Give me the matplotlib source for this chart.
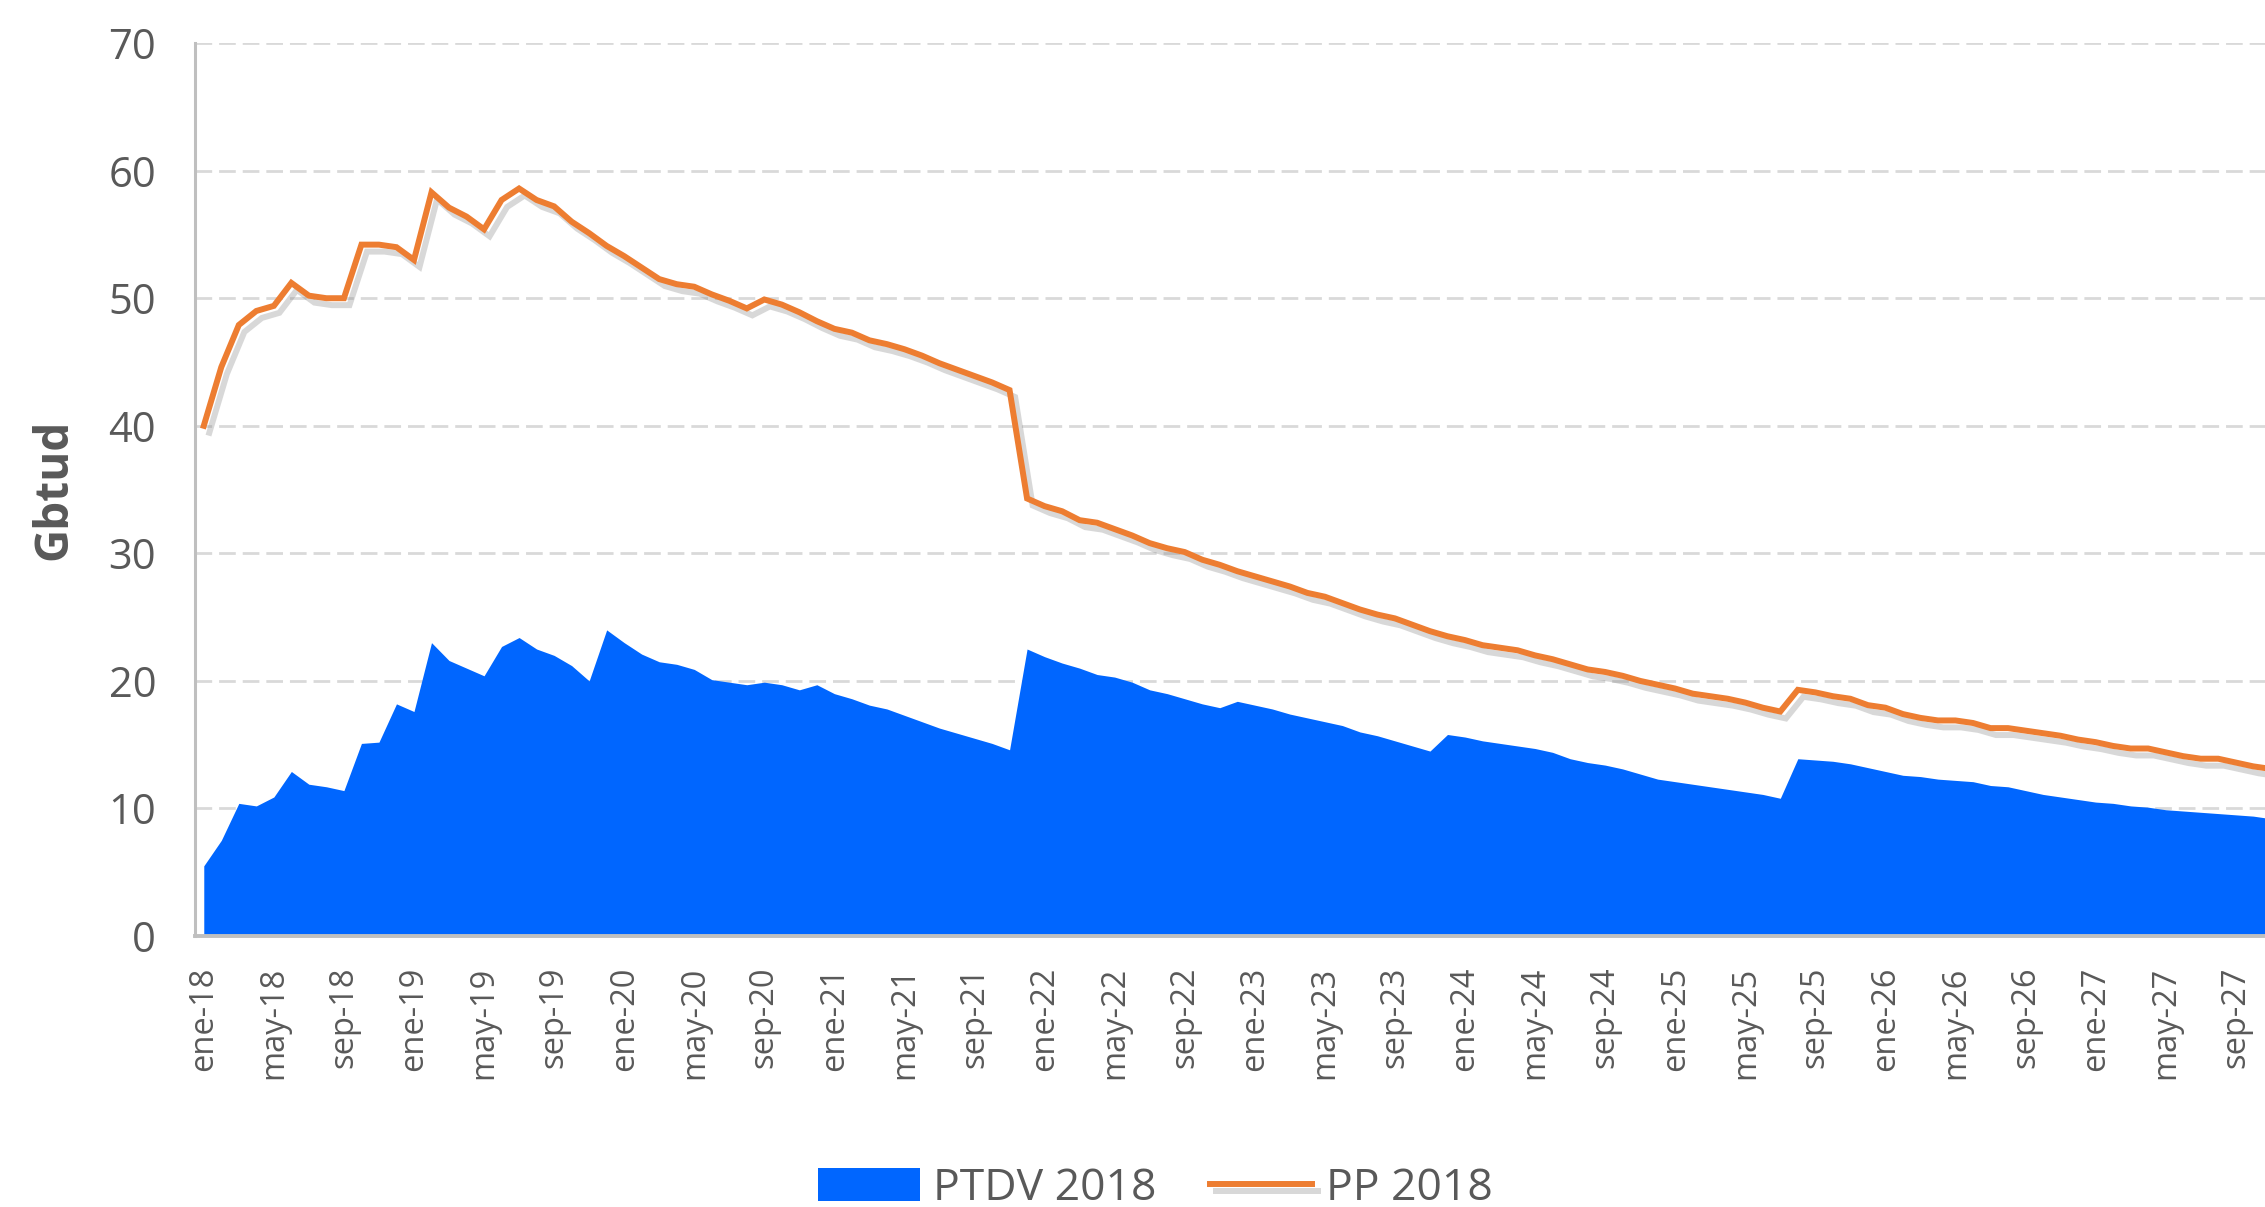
import numpy as np
import matplotlib
matplotlib.use("Agg")
import matplotlib.pyplot as plt
import matplotlib.patheffects as pe

# monthly series starting ene-2018 (chart is cut off at the right edge)
meses = ["ene", "feb", "mar", "abr", "may", "jun", "jul", "ago", "sep", "oct", "nov", "dic"]
anios = list(range(18, 28))

pp_2018 = [
    40.0, 44.6, 47.9, 49.0, 49.4, 51.2, 50.2, 50.0, 50.0, 54.2, 54.2, 54.0,
    53.0, 58.3, 57.1, 56.4, 55.4, 57.7, 58.6, 57.7, 57.2, 56.0, 55.1, 54.1,
    53.3, 52.4, 51.5, 51.1, 50.9, 50.3, 49.8, 49.2, 49.9, 49.5, 48.9, 48.2,
    47.6, 47.3, 46.7, 46.4, 46.0, 45.5, 44.9, 44.4, 43.9, 43.4, 42.8, 34.3,
    33.7, 33.3, 32.6, 32.4, 31.9, 31.4, 30.8, 30.4, 30.1, 29.5, 29.1, 28.6,
    28.2, 27.8, 27.4, 26.9, 26.6, 26.1, 25.6, 25.2, 24.9, 24.4, 23.9, 23.5,
    23.2, 22.8, 22.6, 22.4, 22.0, 21.7, 21.3, 20.9, 20.7, 20.4, 20.0, 19.7,
    19.4, 19.0, 18.8, 18.6, 18.3, 17.9, 17.6, 19.3, 19.1, 18.8, 18.6, 18.1,
    17.9, 17.4, 17.1, 16.9, 16.9, 16.7, 16.3, 16.3, 16.1, 15.9, 15.7, 15.4,
    15.2, 14.9, 14.7, 14.7, 14.4, 14.1, 13.9, 13.9, 13.6, 13.3, 13.1,
]

ptdv_2018 = [
    5.5, 7.5, 10.4, 10.2, 10.9, 12.9, 11.9, 11.7, 11.4, 15.1, 15.2, 18.2,
    17.6, 23.0, 21.6, 21.0, 20.4, 22.7, 23.4, 22.5, 22.0, 21.2, 20.0, 24.0,
    23.0, 22.1, 21.5, 21.3, 20.9, 20.1, 19.9, 19.7, 19.9, 19.7, 19.3, 19.7,
    19.0, 18.6, 18.1, 17.8, 17.3, 16.8, 16.3, 15.9, 15.5, 15.1, 14.6, 22.5,
    21.9, 21.4, 21.0, 20.5, 20.3, 19.9, 19.3, 19.0, 18.6, 18.2, 17.9, 18.4,
    18.1, 17.8, 17.4, 17.1, 16.8, 16.5, 16.0, 15.7, 15.3, 14.9, 14.5, 15.8,
    15.6, 15.3, 15.1, 14.9, 14.7, 14.4, 13.9, 13.6, 13.4, 13.1, 12.7, 12.3,
    12.1, 11.9, 11.7, 11.5, 11.3, 11.1, 10.8, 13.9, 13.8, 13.7, 13.5, 13.2,
    12.9, 12.6, 12.5, 12.3, 12.2, 12.1, 11.8, 11.7, 11.4, 11.1, 10.9, 10.7,
    10.5, 10.4, 10.2, 10.1, 9.9, 9.8, 9.7, 9.6, 9.5, 9.4, 9.2,
]

etiquetas = [m + "-" + str(a) for a in anios for m in meses][:len(pp_2018)]

gris = "#595959"
plt.rcParams["font.family"] = ["Open Sans", "DejaVu Sans"]

fig = plt.figure(figsize=(22.65, 12.07), dpi=100)
ax = fig.add_axes([0.0861, 0.2245, 0.9139, 0.7398])

x = np.arange(len(pp_2018))

ax.fill_between(x, 0, ptdv_2018, color="#0066FF", linewidth=0, label="PTDV 2018", zorder=2)
ax.plot(x, pp_2018, color="#ED7D31", linewidth=4.3, label="PP 2018", zorder=3,
        solid_joinstyle="miter",
        path_effects=[pe.SimpleLineShadow(offset=(4, -5), shadow_color="#7f7f7f", alpha=0.3),
                      pe.Normal()])

ax.set_xlim(-0.5, 117.67)
ax.set_ylim(0, 70)
ax.set_yticks(range(0, 71, 10))
ax.set_xticks(x[::4])
ax.set_xticklabels(etiquetas[::4], rotation=90)

ax.yaxis.grid(True, color="#d9d9d9", linestyle=(0, (6, 2.5)), linewidth=2)
ax.set_axisbelow(True)

for s in ["top", "right"]:
    ax.spines[s].set_visible(False)
ax.spines["left"].set_color("#bfbfbf")
ax.spines["left"].set_linewidth(2.2)
ax.spines["bottom"].set_color("#bfbfbf")
ax.spines["bottom"].set_linewidth(2.8)
ax.spines["bottom"].set_zorder(4)

ax.tick_params(axis="y", length=0, pad=28, labelsize=30, labelcolor=gris)
ax.tick_params(axis="x", length=0, pad=22, labelsize=23.5, labelcolor=gris)

ax.set_ylabel("Gbtud", fontsize=33, fontweight="bold", color=gris, labelpad=22)

fig.legend(loc="center", bbox_to_anchor=(0.51, 0.015), ncol=2, frameon=False,
           fontsize=32, labelcolor=gris, handlelength=2.3, handleheight=0.75,
           columnspacing=1.2, handletextpad=0.3)

fig.savefig("out.png", dpi=100)
